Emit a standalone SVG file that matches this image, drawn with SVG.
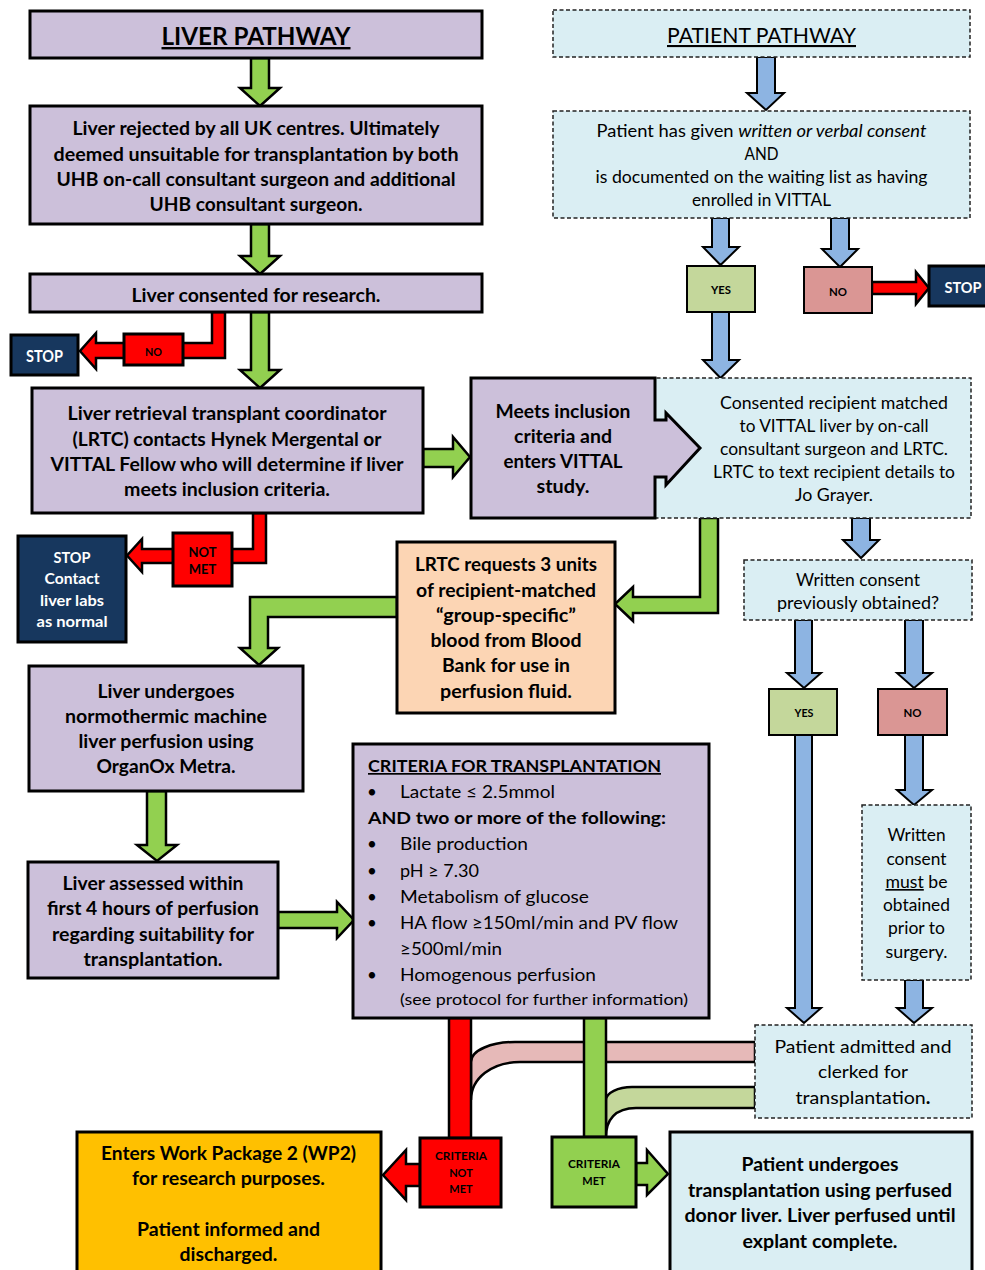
<svg xmlns="http://www.w3.org/2000/svg" width="985" height="1270" viewBox="0 0 985 1270">
<style>
.t{font-family:Lato,'Liberation Sans',sans-serif;text-anchor:middle;fill:#000}
.st{text-anchor:start}
.b{font-weight:bold;font-size:18px}
.r{font-weight:normal;font-size:16.5px}
.w{fill:#fff}
.s{stroke:#000;stroke-width:3}
.s2{stroke:#000;stroke-width:2}
.d{stroke:#222;stroke-width:1.5;stroke-dasharray:4 2.5}
.g{fill:#92D050;stroke:#000;stroke-width:2.5;stroke-linejoin:miter}
.bl{fill:#8DB4E2;stroke:#000;stroke-width:2;stroke-linejoin:miter}
.rd{fill:#FF0000;stroke:#000;stroke-width:2.5;stroke-linejoin:miter}
.pur{fill:#CCC0DA}
.lb{fill:#DAEEF3}
.nv{fill:#17375E}
</style>
<rect width="985" height="1270" fill="#fff"/>
<g id="connectors">
<polygon class="g" points="251,58 269,58 269,88 280,88 260,106 240,88 251,88"/>
<polygon class="g" points="251,224 269,224 269,256 280,256 260,274 240,256 251,256"/>
<polygon class="g" points="251,312 269,312 269,370 280,370 260,388 240,370 251,370"/>
<polygon class="rd" points="212,312 225,312 225,358 96,358 96,369 80,351 96,333 96,343 212,343"/>
<polygon class="g" points="423,449 453,449 453,437 470,457 453,477 453,467 423,467"/>
<polygon class="rd" points="253,513 266,513 266,563 142,563 142,572 127,555.5 142,539 142,549 253,549"/>
<polygon class="g" points="700,518 718,518 718,613 633,613 633,621 615,604 633,587 633,597 700,597"/>
<polygon class="g" points="397,597 250,597 250,648 240,648 259,665 278,648 268,648 268,617 397,617"/>
<polygon class="g" points="147,791 166,791 166,845 177,845 157,861 137,845 147,845"/>
<polygon class="g" points="278,912 337,912 337,902 354,920 337,938 337,928 278,928"/>
<polygon class="bl" points="757,57 775,57 775,93 784,93 766,110 747,93 757,93"/>
<polygon class="bl" points="712,218 729,218 729,247 739,247 720.5,265 703,247 712,247"/>
<polygon class="bl" points="831,218 849,218 849,249 858,249 840,267 822,249 831,249"/>
<polygon class="rd" points="872,282 916,282 916,272 929,288 916,304 916,294 872,294"/>
<polygon class="bl" points="712,312 729,312 729,360 739,360 720.5,378 703,360 712,360"/>
<polygon class="bl" points="852,518 870,518 870,540 879,540 861,558 843,540 852,540"/>
<polygon class="bl" points="795,620 812,620 812,673 821,673 804,688 787,673 795,673"/>
<polygon class="bl" points="905,620 923,620 923,673 932,673 914,688 897,673 905,673"/>
<polygon class="bl" points="795,735 812,735 812,1008 821,1008 804,1023 787,1008 795,1008"/>
<polygon class="bl" points="905,735 923,735 923,790 932,790 914,805 897,790 905,790"/>
<polygon class="bl" points="905,980 923,980 923,1008 932,1008 914,1023 897,1008 905,1008"/>
<path d="M755,1042 L515,1042 C492,1042 471,1050 471,1062 L471,1100 C471,1078 492,1062 520,1062 L755,1062 Z" fill="#E6B9B8" stroke="#000" stroke-width="2.5"/>
<path d="M755,1087 L632,1087 C618,1087 606,1093 606,1100 L606,1137 C606,1120 615,1108 636,1108 L755,1108 Z" fill="#C4D79B" stroke="#000" stroke-width="2.5"/>
<rect x="449" y="1018" width="22" height="120" class="rd"/>
<rect x="584" y="1018" width="22" height="119" class="g"/>
<polygon class="rd" points="420,1164 406,1164 406,1150 383,1175 406,1200 406,1186 420,1186"/>
<polygon class="g" points="636,1163 647,1163 647,1150 668,1174 647,1195 647,1185 636,1185"/>
</g>
<g id="liver-title">
<rect x="30" y="11" width="452" height="47" class="pur s"/>
<text class="t" x="256" y="45" font-weight="bold" font-size="24" text-decoration="underline" textLength="189" lengthAdjust="spacingAndGlyphs">LIVER PATHWAY</text>
</g>
<g id="liver-rejected">
<rect x="30" y="106" width="452" height="118" class="pur s"/>
<text class="t b" x="256" y="135" textLength="367" lengthAdjust="spacingAndGlyphs">Liver rejected by all UK centres. Ultimately</text>
<text class="t b" x="256" y="160.5" textLength="405" lengthAdjust="spacingAndGlyphs">deemed unsuitable for transplantation by both</text>
<text class="t b" x="256" y="185.5" textLength="399" lengthAdjust="spacingAndGlyphs">UHB on-call consultant surgeon and additional</text>
<text class="t b" x="256" y="211" textLength="213" lengthAdjust="spacingAndGlyphs">UHB consultant surgeon.</text>
</g>
<g id="liver-consented">
<rect x="30" y="274" width="452" height="38" class="pur s"/>
<text class="t b" x="256" y="301.5" textLength="249" lengthAdjust="spacingAndGlyphs">Liver consented for research.</text>
</g>
<g id="stop1">
<rect x="11" y="335" width="67" height="40" class="nv s"/>
<text class="t w" x="44.5" y="362" font-weight="bold" font-size="17" textLength="37" lengthAdjust="spacingAndGlyphs">STOP</text>
</g>
<g id="no1">
<rect x="124" y="334" width="59" height="31" fill="#FF0000" class="s"/>
<text class="t" x="153.5" y="356" font-weight="bold" font-size="12" textLength="17" lengthAdjust="spacingAndGlyphs" fill="#222">NO</text>
</g>
<g id="lrtc-contacts">
<rect x="32" y="388" width="391" height="125" class="pur s"/>
<text class="t b" x="227" y="420" textLength="319" lengthAdjust="spacingAndGlyphs">Liver retrieval transplant coordinator</text>
<text class="t b" x="227" y="445.5" textLength="309" lengthAdjust="spacingAndGlyphs">(LRTC) contacts Hynek Mergental or</text>
<text class="t b" x="227" y="471" textLength="353" lengthAdjust="spacingAndGlyphs">VITTAL Fellow who will determine if liver</text>
<text class="t b" x="227" y="496" textLength="206" lengthAdjust="spacingAndGlyphs">meets inclusion criteria.</text>
</g>
<g id="not-met">
<rect x="173" y="533" width="59" height="53" fill="#FF0000" class="s"/>
<text class="t" x="202.5" y="557" font-weight="bold" font-size="13" fill="#222">NOT</text>
<text class="t" x="202.5" y="574" font-weight="bold" font-size="13" fill="#222">MET</text>
</g>
<g id="stop2">
<rect x="18" y="536" width="108" height="106" class="nv s"/>
<text class="t w" x="72" y="563" font-weight="bold" font-size="16" textLength="37" lengthAdjust="spacingAndGlyphs">STOP</text>
<text class="t w" x="72" y="584" font-weight="bold" font-size="16" textLength="55" lengthAdjust="spacingAndGlyphs">Contact</text>
<text class="t w" x="72" y="605.5" font-weight="bold" font-size="16" textLength="64" lengthAdjust="spacingAndGlyphs">liver labs</text>
<text class="t w" x="72" y="627" font-weight="bold" font-size="16" textLength="71" lengthAdjust="spacingAndGlyphs">as normal</text>
</g>
<g id="consented-recipient">
<rect x="650" y="378" width="321" height="140" class="lb d"/>
<text class="t r" x="834" y="409" textLength="228" lengthAdjust="spacingAndGlyphs">Consented recipient matched</text>
<text class="t r" x="834" y="432" textLength="189" lengthAdjust="spacingAndGlyphs">to VITTAL liver by on-call</text>
<text class="t r" x="834" y="455" textLength="228" lengthAdjust="spacingAndGlyphs">consultant surgeon and LRTC.</text>
<text class="t r" x="834" y="478" textLength="242" lengthAdjust="spacingAndGlyphs">LRTC to text recipient details to</text>
<text class="t r" x="834" y="501" textLength="78" lengthAdjust="spacingAndGlyphs">Jo Grayer.</text>
</g>
<g id="meets-inclusion">
<polygon points="471,378 655,378 655,420 666,420 666,413 700,448 666,485 666,477 655,477 655,518 471,518" class="pur s"/>
<text class="t b" x="563" y="418" textLength="135" lengthAdjust="spacingAndGlyphs">Meets inclusion</text>
<text class="t b" x="563" y="443" textLength="98" lengthAdjust="spacingAndGlyphs">criteria and</text>
<text class="t b" x="563" y="468" textLength="119" lengthAdjust="spacingAndGlyphs">enters VITTAL</text>
<text class="t b" x="563" y="493" textLength="53" lengthAdjust="spacingAndGlyphs">study.</text>
</g>
<g id="lrtc-requests">
<rect x="397" y="542" width="218" height="171" fill="#FCD5B4" class="s"/>
<text class="t b" x="506" y="571" textLength="182" lengthAdjust="spacingAndGlyphs">LRTC requests 3 units</text>
<text class="t b" x="506" y="596.5" textLength="180" lengthAdjust="spacingAndGlyphs">of recipient-matched</text>
<text class="t b" x="506" y="621.5" textLength="140" lengthAdjust="spacingAndGlyphs">“group-specific”</text>
<text class="t b" x="506" y="647" textLength="151" lengthAdjust="spacingAndGlyphs">blood from Blood</text>
<text class="t b" x="506" y="672" textLength="128" lengthAdjust="spacingAndGlyphs">Bank for use in</text>
<text class="t b" x="506" y="697.5" textLength="132" lengthAdjust="spacingAndGlyphs">perfusion fluid.</text>
</g>
<g id="liver-undergoes">
<rect x="29" y="666" width="274" height="125" class="pur s"/>
<text class="t b" x="166" y="698" textLength="137" lengthAdjust="spacingAndGlyphs">Liver undergoes</text>
<text class="t b" x="166" y="723" textLength="202" lengthAdjust="spacingAndGlyphs">normothermic machine</text>
<text class="t b" x="166" y="748" textLength="175" lengthAdjust="spacingAndGlyphs">liver perfusion using</text>
<text class="t b" x="166" y="773" textLength="139" lengthAdjust="spacingAndGlyphs">OrganOx Metra.</text>
</g>
<g id="liver-assessed">
<rect x="28" y="862" width="250" height="116" class="pur s"/>
<text class="t b" x="153" y="890" textLength="181" lengthAdjust="spacingAndGlyphs">Liver assessed within</text>
<text class="t b" x="153" y="915" textLength="212" lengthAdjust="spacingAndGlyphs">first 4 hours of perfusion</text>
<text class="t b" x="153" y="940.5" textLength="202" lengthAdjust="spacingAndGlyphs">regarding suitability for</text>
<text class="t b" x="153" y="966" textLength="139" lengthAdjust="spacingAndGlyphs">transplantation.</text>
</g>
<g id="criteria">
<rect x="353" y="744" width="356" height="274" class="pur s"/>
<text class="t st" x="368" y="772" font-weight="bold" font-size="17" text-decoration="underline" textLength="293" lengthAdjust="spacingAndGlyphs">CRITERIA FOR TRANSPLANTATION</text>
<text class="t" x="372" y="798" font-size="17">•</text>
<text class="t st" x="400" y="798" font-size="17" textLength="155" lengthAdjust="spacingAndGlyphs">Lactate ≤ 2.5mmol</text>
<text class="t st" x="368" y="824" font-weight="bold" font-size="17" textLength="298" lengthAdjust="spacingAndGlyphs">AND two or more of the following:</text>
<text class="t" x="372" y="850" font-size="17">•</text>
<text class="t st" x="400" y="850" font-size="17" textLength="128" lengthAdjust="spacingAndGlyphs">Bile production</text>
<text class="t" x="372" y="876.5" font-size="17">•</text>
<text class="t st" x="400" y="876.5" font-size="17" textLength="79" lengthAdjust="spacingAndGlyphs">pH ≥ 7.30</text>
<text class="t" x="372" y="902.5" font-size="17">•</text>
<text class="t st" x="400" y="902.5" font-size="17" textLength="189" lengthAdjust="spacingAndGlyphs">Metabolism of glucose</text>
<text class="t" x="372" y="929" font-size="17">•</text>
<text class="t st" x="400" y="929" font-size="17" textLength="278" lengthAdjust="spacingAndGlyphs">HA flow ≥150ml/min and PV flow</text>
<text class="t st" x="400" y="955" font-size="17" textLength="102" lengthAdjust="spacingAndGlyphs">≥500ml/min</text>
<text class="t" x="372" y="981" font-size="17">•</text>
<text class="t st" x="400" y="981" font-size="17" textLength="196" lengthAdjust="spacingAndGlyphs">Homogenous perfusion</text>
<text class="t st" x="400" y="1005" font-size="15" textLength="288" lengthAdjust="spacingAndGlyphs">(see protocol for further information)</text>
</g>
<g id="patient-title">
<rect x="553" y="10" width="417" height="47" class="lb d"/>
<text class="t" x="761.5" y="43" font-size="21" text-decoration="underline" textLength="189" lengthAdjust="spacingAndGlyphs">PATIENT PATHWAY</text>
</g>
<g id="patient-consent">
<rect x="553" y="111" width="417" height="107" class="lb d"/>
<text class="t r" x="761.5" y="137" textLength="330" lengthAdjust="spacingAndGlyphs">Patient has given <tspan font-style="italic">written or verbal consent</tspan></text>
<text class="t r" x="761.5" y="160" textLength="34" lengthAdjust="spacingAndGlyphs">AND</text>
<text class="t r" x="761.5" y="183" textLength="332" lengthAdjust="spacingAndGlyphs">is documented on the waiting list as having</text>
<text class="t r" x="761.5" y="206" textLength="139" lengthAdjust="spacingAndGlyphs">enrolled in VITTAL</text>
</g>
<g id="yes1">
<rect x="687" y="266" width="68" height="46" fill="#C4D79B" class="s2"/>
<text class="t" x="721" y="294" font-weight="bold" font-size="12" textLength="20" lengthAdjust="spacingAndGlyphs">YES</text>
</g>
<g id="no2">
<rect x="804" y="267" width="68" height="46" fill="#DA9694" class="s2"/>
<text class="t" x="838" y="296" font-weight="bold" font-size="12" textLength="18" lengthAdjust="spacingAndGlyphs">NO</text>
</g>
<g id="stop3">
<rect x="929" y="266" width="60" height="40" class="nv s"/>
<text class="t w" x="963" y="293" font-weight="bold" font-size="16" textLength="37" lengthAdjust="spacingAndGlyphs">STOP</text>
</g>
<g id="written-consent-q">
<rect x="744" y="560" width="228" height="60" class="lb d"/>
<text class="t r" x="858" y="586" textLength="124" lengthAdjust="spacingAndGlyphs">Written consent</text>
<text class="t r" x="858" y="609" textLength="162" lengthAdjust="spacingAndGlyphs">previously obtained?</text>
</g>
<g id="yes2">
<rect x="769" y="689" width="68" height="46" fill="#C4D79B" class="s2"/>
<text class="t" x="804" y="717" font-weight="bold" font-size="12" textLength="19" lengthAdjust="spacingAndGlyphs">YES</text>
</g>
<g id="no3">
<rect x="878" y="689" width="69" height="46" fill="#DA9694" class="s2"/>
<text class="t" x="912.5" y="717" font-weight="bold" font-size="12" textLength="18" lengthAdjust="spacingAndGlyphs">NO</text>
</g>
<g id="must-consent">
<rect x="862" y="805" width="109" height="175" class="lb d"/>
<text class="t r" x="916.5" y="841" textLength="58" lengthAdjust="spacingAndGlyphs">Written</text>
<text class="t r" x="916.5" y="865" textLength="60" lengthAdjust="spacingAndGlyphs">consent</text>
<text class="t r" x="916.5" y="888" textLength="62" lengthAdjust="spacingAndGlyphs"><tspan text-decoration="underline">must</tspan> be</text>
<text class="t r" x="916.5" y="911" textLength="67" lengthAdjust="spacingAndGlyphs">obtained</text>
<text class="t r" x="916.5" y="934" textLength="57" lengthAdjust="spacingAndGlyphs">prior to</text>
<text class="t r" x="916.5" y="958" textLength="62" lengthAdjust="spacingAndGlyphs">surgery.</text>
</g>
<g id="patient-admitted">
<rect x="755" y="1025" width="217" height="93" class="lb d"/>
<text class="t" x="863" y="1053" font-size="18" textLength="177" lengthAdjust="spacingAndGlyphs">Patient admitted and</text>
<text class="t" x="863" y="1078" font-size="18" textLength="90" lengthAdjust="spacingAndGlyphs">clerked for</text>
<text class="t" x="863" y="1104" font-size="18" textLength="135" lengthAdjust="spacingAndGlyphs">transplantation<tspan font-weight="bold">.</tspan></text>
</g>
<g id="criteria-not-met">
<rect x="420" y="1138" width="81" height="69" fill="#FF0000" class="s"/>
<text class="t" x="461" y="1160" font-weight="bold" font-size="11" textLength="52" lengthAdjust="spacingAndGlyphs" fill="#222">CRITERIA</text>
<text class="t" x="461" y="1177" font-weight="bold" font-size="11" fill="#222">NOT</text>
<text class="t" x="461" y="1193" font-weight="bold" font-size="11" fill="#222">MET</text>
</g>
<g id="criteria-met">
<rect x="552" y="1137" width="84" height="70" fill="#92D050" class="s"/>
<text class="t" x="594" y="1168" font-weight="bold" font-size="11" textLength="52" lengthAdjust="spacingAndGlyphs" fill="#222">CRITERIA</text>
<text class="t" x="594" y="1185" font-weight="bold" font-size="11" fill="#222">MET</text>
</g>
<g id="wp2">
<rect x="77" y="1132" width="304" height="150" fill="#FFC000" class="s"/>
<text class="t b" x="228.5" y="1160" textLength="255" lengthAdjust="spacingAndGlyphs">Enters Work Package 2 (WP2)</text>
<text class="t b" x="228.5" y="1185" textLength="193" lengthAdjust="spacingAndGlyphs">for research purposes.</text>
<text class="t b" x="228.5" y="1236" textLength="183" lengthAdjust="spacingAndGlyphs">Patient informed and</text>
<text class="t b" x="228.5" y="1261" textLength="98" lengthAdjust="spacingAndGlyphs">discharged.</text>
</g>
<g id="transplant">
<rect x="670" y="1132" width="302" height="150" class="lb s"/>
<text class="t b" x="820" y="1171" textLength="157" lengthAdjust="spacingAndGlyphs">Patient undergoes</text>
<text class="t b" x="820" y="1197" textLength="264" lengthAdjust="spacingAndGlyphs">transplantation using perfused</text>
<text class="t b" x="820" y="1222" textLength="271" lengthAdjust="spacingAndGlyphs">donor liver. Liver perfused until</text>
<text class="t b" x="820" y="1248" textLength="155" lengthAdjust="spacingAndGlyphs">explant complete.</text>
</g>
</svg>
